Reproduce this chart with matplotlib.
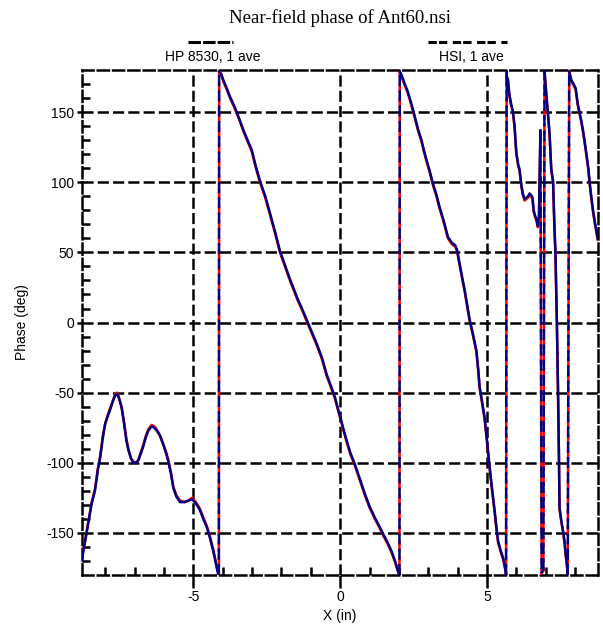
import numpy as np
import matplotlib
matplotlib.use("Agg")
import matplotlib.pyplot as plt
from matplotlib.lines import Line2D

plt.rcParams['font.family'] = ['Liberation Sans', 'DejaVu Sans']
plt.rcParams['lines.scale_dashes'] = False
plt.rcParams['axes.unicode_minus'] = False

# scan position along X (in)
x_in = [
    -8.80, -8.72, -8.65, -8.55, -8.46, -8.35, -8.25, -8.17, -8.08, -8.00,
    -7.90, -7.83, -7.74, -7.66, -7.60, -7.55, -7.50, -7.44, -7.35, -7.28,
    -7.21, -7.12, -7.04, -6.95, -6.87, -6.78, -6.70, -6.62, -6.53, -6.42,
    -6.33, -6.25, -6.15, -6.08, -6.02, -5.93, -5.85, -5.76, -5.68, -5.58,
    -5.45, -5.30, -5.17, -5.05, -4.95, -4.85, -4.77, -4.66, -4.54, -4.44,
    -4.32, -4.24, -4.17, -4.13,
    -4.12, -4.05, -3.98, -3.88, -3.75, -3.62, -3.52, -3.40, -3.29, -3.15,
    -3.01, -2.88, -2.73, -2.55, -2.39, -2.22, -2.05, -1.88, -1.71, -1.45,
    -1.30, -1.14, -0.98, -0.80, -0.62, -0.46, -0.30, -0.18, -0.08, 0.00,
    0.10, 0.22, 0.35, 0.50, 0.68, 0.84, 1.00, 1.18, 1.33, 1.47,
    1.62, 1.75, 1.87, 1.98, 2.02,
    2.03, 2.10, 2.20, 2.28, 2.37, 2.45, 2.54, 2.65, 2.77, 2.85,
    2.94, 3.05, 3.16, 3.28, 3.39, 3.52, 3.67, 3.80, 3.92, 3.98,
    4.05, 4.13, 4.25, 4.33, 4.41, 4.52, 4.64, 4.70, 4.75, 4.83,
    4.92, 5.00, 5.09, 5.18, 5.26, 5.32, 5.38, 5.46, 5.55, 5.62,
    5.65,
    5.67, 5.69, 5.71, 5.76, 5.82, 5.88, 5.94, 5.97, 6.00, 6.06,
    6.11, 6.17, 6.22, 6.28, 6.34, 6.40, 6.45, 6.50, 6.55, 6.59,
    6.64, 6.68, 6.73, 6.77, 6.82, 6.86, 6.92, 6.96, 7.02, 7.08,
    7.13, 7.19, 7.25, 7.30, 7.33, 7.38, 7.42, 7.45, 7.47, 7.53,
    7.60, 7.64, 7.68, 7.72, 7.75,
    7.80, 7.87, 7.95, 8.02, 8.09, 8.15, 8.21, 8.27, 8.32, 8.40,
    8.45, 8.49, 8.55, 8.61, 8.67, 8.72, 8.77,
]

# HSI receiver, 1 average (deg)
hsi_phase = [
    -170, -160, -152, -140, -129, -120, -105, -96, -82, -72,
    -66, -62, -56, -52, -51, -53, -56, -61, -73, -84,
    -91, -97, -100, -100, -98, -93, -88, -82, -77, -74,
    -75, -77, -80, -84, -87, -93, -99, -108, -118, -124,
    -128, -128, -127, -126, -128, -131, -134, -140, -146, -153,
    -163, -171, -178, -180,
    179, 177, 173, 168, 161, 155, 150, 143, 137, 130,
    123, 112, 101, 90, 78, 65, 51, 41, 31, 17,
    10, 2, -6, -15, -25, -37, -46, -53, -61, -67,
    -75, -84, -93, -101, -112, -122, -131, -139, -145, -151,
    -157, -163, -170, -178, -180,
    179, 176, 170, 166, 160, 154, 147, 138, 130, 123,
    116, 108, 99, 91, 82, 73, 61, 57, 55, 52,
    44, 35, 22, 12, 2, -8, -20, -33, -46, -56,
    -68, -84, -103, -120, -134, -146, -156, -162, -168, -175,
    -180,
    179, 165, 174, 163, 156, 151, 140, 130, 121, 113,
    109, 98, 92, 88, 89, 90, 92, 91, 89, 80,
    76, 74, 69, 76, 137, -178, -176, 179, 163, 148,
    135, 109, 101, 66, 51, 0, -50, -95, -132, -141,
    -150, -156, -165, -172, -180,
    179, 173, 170, 167, 156, 150, 144, 137, 130, 118,
    110, 101, 90, 80, 72, 66, 60,
]

# HP 8530 receiver, 1 average (deg)
hp_phase = [
    -169, -159, -151, -139, -128, -119, -104, -95, -81, -72,
    -65, -61, -56, -51, -50, -52, -56, -60, -72, -83,
    -90, -97, -99, -100, -98, -92, -87, -81, -76, -73,
    -74, -76, -80, -83, -87, -92, -98, -107, -117, -123,
    -127, -128, -127, -125, -127, -130, -133, -139, -145, -152,
    -162, -170, -177, -180,
    179, 177, 172, 167, 160, 154, 149, 143, 136, 129,
    122, 111, 100, 89, 77, 64, 50, 40, 30, 16,
    9, 1, -7, -16, -26, -38, -47, -54, -62, -68,
    -76, -85, -94, -102, -113, -123, -132, -140, -146, -152,
    -158, -164, -171, -178, -180,
    179, 175, 169, 165, 159, 153, 146, 137, 129, 122,
    115, 107, 98, 90, 81, 72, 60, 56, 54, 51,
    43, 34, 21, 11, 1, -9, -21, -34, -47, -57,
    -69, -85, -104, -121, -135, -147, -157, -163, -169, -176,
    -180,
    179, 166, 173, 162, 155, 150, 139, 129, 120, 112,
    108, 97, 91, 87, 88, 89, 91, 90, 88, 79,
    75, 73, 68, 75, 136, -179, -177, 179, 162, 147,
    134, 108, 100, 65, 50, -1, -51, -96, -133, -142,
    -151, -157, -166, -173, -180,
    179, 172, 169, 166, 155, 149, 143, 136, 129, 117,
    109, 100, 89, 79, 71, 65, 59,
]

y_ticks = [-150, -100, -50, 0, 50, 100, 150]
x_ticks = [-5, 0, 5]

dash = (0, (8, 3))


def draw_trace(ax, x, y, color, dash_offset=0, z=3):
    # smooth runs are solid; phase wrap jumps are dashed
    x = np.asarray(x, float)
    y = np.asarray(y, float)
    jumps = np.where(np.abs(np.diff(y)) > 180)[0]
    start = 0
    for j in jumps:
        ax.plot(x[start:j + 1], y[start:j + 1], color=color, lw=1.8, zorder=z)
        ax.plot(x[j:j + 2], y[j:j + 2], color=color, lw=1.8,
                linestyle=(dash_offset, (8, 3)), zorder=z)
        start = j + 1
    ax.plot(x[start:], y[start:], color=color, lw=1.8, zorder=z)


fig = plt.figure(figsize=(6.03, 6.31), dpi=100)
ax = fig.add_axes([0.1355, 0.0887, 0.8562, 0.8003])

draw_trace(ax, x_in, hp_phase, '#ff0000', dash_offset=5, z=3)
draw_trace(ax, x_in, hsi_phase, '#000080', dash_offset=0, z=4)

ax.set_xlim(-8.8, 8.78)
ax.set_ylim(-180, 180)
ax.set_xticks(x_ticks)
ax.set_yticks(y_ticks)
ax.set_xticks(np.arange(-8, 9, 1), minor=True)
ax.set_yticks(np.arange(-170, 180, 10), minor=True)
ax.set_axisbelow(True)
ax.grid(which='major', color='black', linestyle=dash, linewidth=1.8)

for s in ax.spines.values():
    s.set_linestyle(dash)
    s.set_linewidth(1.8)
    s.set_color('black')

ax.tick_params(axis='x', which='major', direction='out', length=9, width=1.8,
               labelsize=10, pad=2)
ax.tick_params(axis='y', which='major', direction='out', length=3.5, width=1.8,
               labelsize=10, pad=2)
ax.tick_params(which='minor', direction='in', length=5.5, width=1.8)
ax.tick_params(top=False, right=False, which='both')

fig.text(0.564, 0.971, 'Near-field phase of Ant60.nsi', ha='center', va='center',
         family=['Liberation Serif', 'DejaVu Serif'], fontsize=13.5)
fig.text(0.037, 0.49, 'Phase (deg)', rotation=90, ha='center', va='center',
         fontsize=10)
fig.text(0.564, 0.024, 'X (in)', ha='center', va='center', fontsize=10)

# legend entries above the plot
fig.add_artist(Line2D([0.312, 0.386], [0.9334, 0.9334], color='black', lw=2.2,
                      linestyle=(0, (9, 1.5)), transform=fig.transFigure))
fig.text(0.352, 0.9097, 'HP 8530, 1 ave', ha='center', va='center', fontsize=10)
fig.add_artist(Line2D([0.710, 0.841], [0.9334, 0.9334], color='black', lw=2.2,
                      linestyle=(0, (6, 1.5, 6, 4)), transform=fig.transFigure))
fig.text(0.781, 0.9097, 'HSI, 1 ave', ha='center', va='center', fontsize=10)

fig.savefig('out.png', dpi=100)
